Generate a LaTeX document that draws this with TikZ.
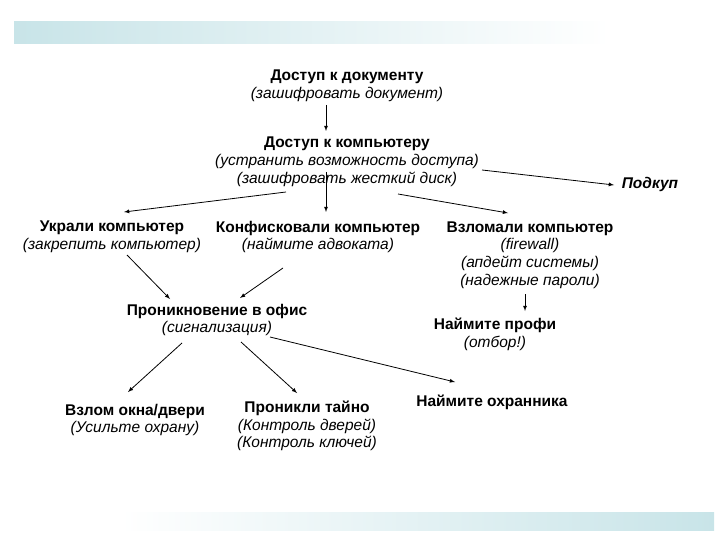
\documentclass[tikz,border=0pt]{standalone}
\usepackage{fontspec}
\setmainfont{Liberation Sans}
\begin{document}
\begin{tikzpicture}[x=1pt,y=-1pt,
  t/.style={align=center,inner sep=0pt,font=\fontsize{15.5}{17.8}\selectfont},
  ar/.style={-latex,thick}]
\useasboundingbox (0,0) rectangle (720,540);
\definecolor{bar}{RGB}{200,228,232}
\shade[left color=bar,right color=white] (14,22) rectangle (610,44);
\shade[left color=white,right color=bar] (120,512) rectangle (714,530);
\node[t] (doc) at (347,86) {\textbf{Доступ к документу}\\\textit{(зашифровать документ)}};
\node[t] (comp) at (347,162) {\textbf{Доступ к компьютеру}\\\textit{(устранить возможность доступа)}\\\textit{(зашифровать жесткий диск)}};
\node[t] (podkup) at (650,184) {\textbf{\textit{Подкуп}}};
\node[t] (ukr) at (112,237) {\textbf{Украли компьютер}\\\textit{(закрепить компьютер)}};
\node[t] (konf) at (318,237) {\textbf{Конфисковали компьютер}\\\textit{(наймите адвоката)}};
\node[t] (vzl) at (530,255) {\textbf{Взломали компьютер}\\\textit{(firewall)}\\\textit{(апдейт системы)}\\\textit{(надежные пароли)}};
\node[t] (pron) at (217,320) {\textbf{Проникновение в офис}\\\textit{(сигнализация)}};
\node[t] (profi) at (495,334) {\textbf{Наймите профи}\\\textit{(отбор!)}};
\node[t] (okno) at (135,420) {\textbf{Взлом окна/двери}\\\textit{(Усильте охрану)}};
\node[t] (tayno) at (307,426) {\textbf{Проникли тайно}\\\textit{(Контроль дверей)}\\\textit{(Контроль ключей)}};
\node[t] (ohr) at (492,402) {\textbf{Наймите охранника}};
\coordinate (c1) at (326,105); \coordinate (c2) at (326,131);
\draw[ar] (c1) -- (c2);
\coordinate (a1) at (286,192); \coordinate (a2) at (124,212);
\draw[ar] (a1) -- (a2);
\coordinate (b1) at (326,172); \coordinate (b2) at (326,212);
\draw[ar] (b1) -- (b2);
\coordinate (d1) at (398,194); \coordinate (d2) at (508,213);
\draw[ar] (d1) -- (d2);
\coordinate (e1) at (482,170); \coordinate (e2) at (614,185);
\draw[ar] (e1) -- (e2);
\coordinate (f1) at (525,294); \coordinate (f2) at (525,311);
\draw[ar] (f1) -- (f2);
\coordinate (g1) at (127,255); \coordinate (g2) at (170,299);
\draw[ar] (g1) -- (g2);
\coordinate (h1) at (283,268); \coordinate (h2) at (240,298);
\draw[ar] (h1) -- (h2);
\coordinate (i1) at (182,343); \coordinate (i2) at (128,392);
\draw[ar] (i1) -- (i2);
\coordinate (j1) at (241,342); \coordinate (j2) at (297,393);
\draw[ar] (j1) -- (j2);
\coordinate (k1) at (270,337); \coordinate (k2) at (455,382);
\draw[ar] (k1) -- (k2);
\end{tikzpicture}
\end{document}
